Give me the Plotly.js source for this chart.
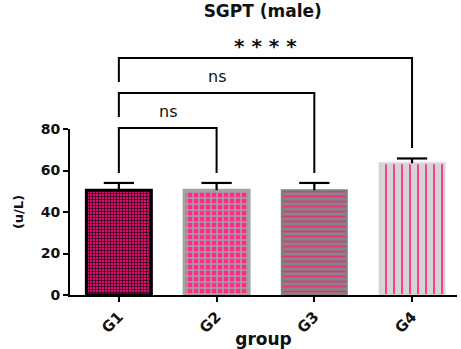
<!DOCTYPE html>
<html><head><meta charset="utf-8">
<script src="https://cdn.plot.ly/plotly-3.0.1.min.js"></script>
<style>body{margin:0;background:#fff}#c{width:461px;height:349px}</style>
</head><body><div id="c"></div>
<script>
const groups = ['G1','G2','G3','G4'];
const means = [50.5, 50.5, 50.5, 63.5];
const sems = [3.5, 3.5, 3.5, 2.3];
const comparisons = [[0,1],[0,2],[0,3]];
const compLabels = ['ns','ns','* * * *'];
const bracketTop = [80.5, 97.3, 114.2];
const legLeft = [58.8, 85.8, 102.7];
const legRight = [58.8, 58.8, 70.8];

const yMax = 80;
const FF = 'DejaVu Sans, Verdana, sans-serif';
const font = {family:FF, color:'#111'};
const styles = [
  {bg:'#d8106e', fg:'#1c000e', shape:'+', size:3, sol:0.4, line:'#000', lw:3},
  {bg:'#ff2a8a', fg:'#a3a3a3', shape:'+', size:6, sol:0.45, line:'#a3a3a3', lw:3},
  {bg:'#858585', fg:'#e8307f', shape:'-', size:5, sol:0.35, line:'#808080', lw:2},
  {bg:'#d6d6d6', fg:'#ff2a8a', shape:'|', size:8, sol:0.22, line:'#d6d6d6', lw:2}
];
const traces = groups.map((g,i)=>({
  type:'bar', x:[i], y:[means[i]], width:0.665, name:g,
  marker:{color:styles[i].bg, line:{color:styles[i].line,width:styles[i].lw},
    pattern:{shape:styles[i].shape, bgcolor:styles[i].bg, fgcolor:styles[i].fg,
      size:styles[i].size, solidity:styles[i].sol, fgopacity:1}},
  hoverinfo:'skip'
}));
const shapes = [];
const ann = [];
const capHalf = 0.155;
means.forEach((m,i)=>{
  shapes.push({type:'line',xref:'x',yref:'y',x0:i,x1:i,y0:m,y1:m+sems[i],line:{color:'#000',width:2.2}});
  shapes.push({type:'line',xref:'x',yref:'y',x0:i-capHalf,x1:i+capHalf,y0:m+sems[i],y1:m+sems[i],line:{color:'#000',width:2.2}});
});
comparisons.forEach((c,k)=>{
  const top = bracketTop[k]/yMax;
  shapes.push({type:'path',xref:'x',yref:'paper',
    path:`M ${c[0]},${legLeft[k]/yMax} L ${c[0]},${top} L ${c[1]},${top} L ${c[1]},${legRight[k]/yMax}`,
    line:{color:'#000',width:2}});
  ann.push({xref:'x',yref:'paper',x:(c[0]+c[1])/2,y:top,yanchor:'bottom',yshift:k===2?-2:5,showarrow:false,
    text:compLabels[k],font:Object.assign({},font,k===2?{size:20,weight:'bold'}:{size:16})});
});
const layout = {
  width:461,height:349,
  margin:{l:70,r:4,t:129,b:54},
  paper_bgcolor:'#fff',plot_bgcolor:'#fff',
  showlegend:false,
  barmode:'overlay',
  title:{text:'SGPT (male)',x:0.57,xanchor:'center',y:0.985,yanchor:'top',
    font:Object.assign({},font,{size:17,weight:'bold'})},
  xaxis:{range:[-0.5,3.46],tickvals:[0,1,2,3],ticktext:groups,tickangle:-45,
    showline:true,linecolor:'#000',linewidth:2,ticks:'outside',ticklen:5,tickwidth:2,tickcolor:'#000',
    showgrid:false,zeroline:false,fixedrange:true,
    tickfont:Object.assign({},font,{size:15,weight:'bold'}),
    title:{text:'group',font:Object.assign({},font,{size:17,weight:'bold'}),standoff:0}},
  yaxis:{range:[0,80],tickvals:[0,20,40,60,80],
    showline:true,linecolor:'#000',linewidth:2,ticks:'outside',ticklen:5,tickwidth:2,tickcolor:'#000',
    showgrid:false,zeroline:false,fixedrange:true,
    tickfont:Object.assign({},font,{size:14,weight:'bold'}),
    title:{text:'(u/L)',font:Object.assign({},font,{size:13,weight:'bold'}),standoff:14}},
  shapes:shapes,
  annotations:ann
};
Plotly.newPlot('c',traces,layout,{displayModeBar:false,staticPlot:true});
</script></body></html>
